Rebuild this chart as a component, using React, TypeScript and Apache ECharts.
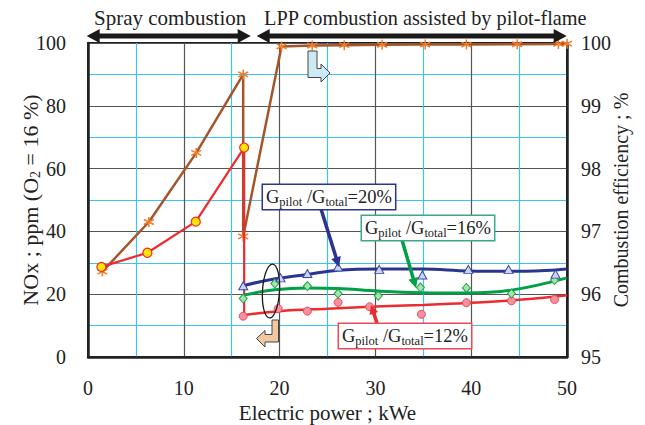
import React, { useEffect, useRef } from 'react';
import * as echarts from 'echarts';

// Combustion efficiency (right axis, %)
const effX = [1.5, 6.35, 11.3, 16.2, 16.2, 20.2, 23.4, 26.75, 30.7, 35.2, 39.5, 44.8, 49.1, 50];
const effY = [96.36, 97.15, 98.25, 99.5, 96.92, 99.945, 99.96, 99.965, 99.972, 99.975, 99.975, 99.98, 99.985, 99.99];

// Spray combustion NOx (left axis, ppm)
const sprayX = [1.4, 6.2, 11.25, 16.3, 16.3];
const sprayY = [28.7, 33.2, 43.1, 66.7, 13];

// Fitted curves (NOx)
const fit12X = [16.3, 20, 25, 29.4, 35, 39.5, 45, 50];
const fit12Y = [13.4, 14.6, 15.4, 16.0, 16.6, 17.2, 18.2, 19.7];
const fit16X = [16.2, 19.5, 22.9, 26.1, 30.3, 34.7, 39.5, 44.2, 50];
const fit16Y = [19.7, 21.4, 22.0, 21.8, 21.0, 20.5, 20.4, 21.3, 25.2];
const fit20X = [16.2, 19, 22.9, 26.1, 30.4, 34.9, 39.7, 43.9, 48.8, 50];
const fit20Y = [22.7, 24.6, 26.3, 27.6, 28.0, 28.0, 27.4, 27.3, 27.7, 28.0];

// Measured points (NOx)
const pts12X = [16.2, 19.85, 22.9, 26.1, 29.4, 34.8, 39.5, 44.2, 48.7];
const pts12Y = [13.0, 15.4, 14.6, 17.4, 16.0, 13.6, 17.3, 17.9, 18.3];
const pts16X = [16.2, 19.5, 22.9, 26.1, 30.3, 34.7, 39.5, 44.2, 48.7];
const pts16Y = [18.6, 23.4, 22.6, 20.2, 19.5, 22.1, 22.0, 20.2, 24.5];
const pts20X = [16.2, 20.1, 22.9, 26.1, 30.4, 34.9, 39.7, 43.9, 48.8];
const pts20Y = [22.7, 25.2, 26.6, 28.7, 27.9, 26.1, 27.9, 27.9, 26.4];

const zip = (xs: number[], ys: number[]) => xs.map((x, i) => [x, ys[i]]);

const FONT = "'Liberation Serif', 'Times New Roman', 'DejaVu Serif', serif";

function arrow(x1: number, y1: number, x2: number, y2: number, color: string, width: number, headLen: number, headW: number) {
  const dx = x2 - x1, dy = y2 - y1;
  const len = Math.sqrt(dx * dx + dy * dy);
  const ux = dx / len, uy = dy / len;
  const bx = x2 - ux * headLen, by = y2 - uy * headLen;
  const px = -uy, py = ux;
  return [
    { type: 'line', shape: { x1, y1, x2: bx + ux * 1, y2: by + uy * 1 }, style: { stroke: color, lineWidth: width }, z: 100 },
    {
      type: 'polygon',
      shape: { points: [[x2, y2], [bx + px * headW, by + py * headW], [bx - px * headW, by - py * headW]] },
      style: { fill: color }, z: 100,
    },
  ];
}

function dblArrow(xl: number, xr: number, y: number) {
  const c = '#1a1a1a';
  return [
    { type: 'line', shape: { x1: xl + 10, y1: y, x2: xr - 10, y2: y }, style: { stroke: c, lineWidth: 5 }, z: 100 },
    { type: 'polygon', shape: { points: [[xl, y], [xl + 13, y - 7], [xl + 13, y + 7]] }, style: { fill: c }, z: 100 },
    { type: 'polygon', shape: { points: [[xr, y], [xr - 13, y - 7], [xr - 13, y + 7]] }, style: { fill: c }, z: 100 },
  ];
}

function label(x: number, y: number, pct: string, color: string) {
  return {
    type: 'text',
    x, y, z: 110,
    style: {
      text: `{a|G}{s|pilot}{a| /G}{s|total}{a|=${pct}}`,
      rich: {
        a: { fontFamily: FONT, fontSize: 18.5, lineHeight: 22, verticalAlign: 'middle', fill: '#222' },
        s: { fontFamily: FONT, fontSize: 12.5, lineHeight: 12, verticalAlign: 'bottom', fill: '#222' },
      },
      backgroundColor: '#fff',
      borderColor: color,
      borderWidth: 1.5,
      padding: [1, 3, 1, 3],
      align: 'left',
      verticalAlign: 'top',
    },
  };
}

export default function App() {
  const ref = useRef<HTMLDivElement>(null);
  useEffect(() => {
    if (!ref.current) return;
    const chart = echarts.init(ref.current, null, { renderer: 'svg' });
    const asterisk = 'path://M0,-10L0,10M-8.66,-5L8.66,5M-8.66,5L8.66,-5';
    const axisLabel = { fontFamily: FONT, fontSize: 20, color: '#222' };
    const option: any = {
      animation: false,
      backgroundColor: '#fff',
      textStyle: { fontFamily: FONT },
      grid: {
        left: 88, right: 78, top: 43, bottom: 68, show: true, borderColor: '#222', borderWidth: 2,
        backgroundColor: 'transparent', containLabel: false, outerBoundsMode: 'none',
      },
      xAxis: {
        type: 'value', min: 0, max: 50, interval: 10,
        axisLine: { show: true, lineStyle: { color: '#222', width: 2.5 } },
        axisTick: { show: false },
        axisLabel: { ...axisLabel, margin: 21 },
        splitLine: { show: true, lineStyle: { color: '#555', width: 1.2 } },
        minorTick: { show: false, splitNumber: 2 },
        minorSplitLine: { show: true, lineStyle: { color: '#3cc3f0', width: 1.2 } },
        name: 'Electric power ; kWe', nameLocation: 'middle', nameGap: 45, nameMoveOverlap: false,
        nameTextStyle: { fontFamily: FONT, fontSize: 21, color: '#222' },
      },
      yAxis: [
        {
          type: 'value', min: 0, max: 100, interval: 20, position: 'left',
          axisLine: { show: true, lineStyle: { color: '#222', width: 2.5 } },
          axisTick: { show: false },
          axisLabel: { ...axisLabel, margin: 22 },
          splitLine: { show: true, lineStyle: { color: '#555', width: 1.2 } },
          minorTick: { show: false, splitNumber: 2 },
          minorSplitLine: { show: true, lineStyle: { color: '#3cc3f0', width: 1.2 } },
          name: '{a|NOx ; ppm (O}{s|2}{a| = 16 %)}', nameLocation: 'middle', nameGap: 46, nameRotate: 90, nameMoveOverlap: false,
          nameTextStyle: {
            rich: {
              a: { fontFamily: FONT, fontSize: 22, color: '#222', lineHeight: 24, verticalAlign: 'middle' },
              s: { fontFamily: FONT, fontSize: 14, color: '#222', lineHeight: 14, verticalAlign: 'bottom' },
            },
          },
        },
        {
          type: 'value', min: 95, max: 100, interval: 1, position: 'right',
          axisLine: { show: true, lineStyle: { color: '#222', width: 2.5 } },
          axisTick: { show: false },
          axisLabel: { ...axisLabel, margin: 14 },
          splitLine: { show: false },
          name: 'Combustion efficiency ; %', nameLocation: 'middle', nameGap: 44, nameRotate: 90, nameMoveOverlap: false,
          nameTextStyle: { fontFamily: FONT, fontSize: 20, color: '#222' },
        },
      ],
      series: [
        {
          type: 'line', yAxisIndex: 1, data: zip(effX, effY),
          lineStyle: { color: '#a4552a', width: 2.5 },
          symbol: asterisk, symbolSize: 10,
          itemStyle: { color: 'transparent', borderColor: '#f37b2a', borderWidth: 1.5 },
          z: 3,
        },
        {
          type: 'line', yAxisIndex: 0,
          data: zip(sprayX, sprayY).map((d, i) => (i === sprayX.length - 1 ? { value: d, symbol: 'none' } : d)),
          lineStyle: { color: '#ee2a2e', width: 2.2 },
          symbol: 'circle', symbolSize: 9,
          itemStyle: { color: '#ffe500', borderColor: '#ee2a2e', borderWidth: 1.2 },
          z: 4,
        },
        {
          type: 'line', data: zip(fit12X, fit12Y), smooth: 0.4, symbol: 'none',
          lineStyle: { color: '#ee2a2e', width: 2.5 }, z: 4,
        },
        {
          type: 'line', data: zip(fit16X, fit16Y), smooth: 0.4, symbol: 'none',
          lineStyle: { color: '#00a046', width: 3 }, z: 4,
        },
        {
          type: 'line', data: zip(fit20X, fit20Y), smooth: 0.4, symbol: 'none',
          lineStyle: { color: '#2b3590', width: 3 }, z: 4,
        },
        {
          type: 'scatter', data: zip(pts12X, pts12Y), symbol: 'circle', symbolSize: 8,
          itemStyle: { color: '#f7909d', borderColor: '#e84a63', borderWidth: 1, opacity: 1 }, z: 5,
        },
        {
          type: 'scatter', data: zip(pts16X, pts16Y), symbol: 'diamond', symbolSize: [8, 9],
          itemStyle: { color: '#a6e5a8', borderColor: '#20a050', borderWidth: 1, opacity: 1 }, z: 5,
        },
        {
          type: 'scatter', data: zip(pts20X, pts20Y), symbol: 'triangle', symbolSize: [9, 8],
          itemStyle: { color: '#c9d6f4', borderColor: '#3a46a8', borderWidth: 1, opacity: 1 }, z: 5,
        },
      ],
      graphic: [
        { type: 'text', x: 94, y: 18, z: 100, style: { text: 'Spray combustion', fontFamily: FONT, fontSize: 21, fill: '#222', align: 'left', verticalAlign: 'middle' } },
        { type: 'text', x: 264, y: 18, z: 100, style: { text: 'LPP combustion assisted by pilot-flame', fontFamily: FONT, fontSize: 20.3, fill: '#222', align: 'left', verticalAlign: 'middle' } },
        ...dblArrow(86.7, 250.7, 36),
        ...dblArrow(256.7, 566.7, 36),
        {
          type: 'polygon', z: 100,
          shape: { points: [[308, 51], [317, 51], [317, 68.5], [321, 68.5], [321, 64], [330, 73], [321, 82], [321, 77.5], [308, 77.5]] },
          style: { fill: '#cde9f4', stroke: '#444', lineWidth: 1 },
        },
        {
          type: 'polygon', z: 100,
          shape: { points: [[278.5, 320], [278.5, 342], [265, 342], [265, 347], [256.5, 338.5], [265, 330.5], [265, 334.5], [272, 334.5], [272, 320]] },
          style: { fill: '#f2c8a0', stroke: '#444', lineWidth: 1 },
        },
        {
          type: 'ellipse', z: 100, x: 271, y: 291, rotation: -0.06,
          shape: { cx: 0, cy: 0, rx: 8.5, ry: 27 },
          style: { fill: 'none', stroke: '#1a1a1a', lineWidth: 1.3 },
        },
        ...arrow(321, 209, 339, 267, '#2b3590', 3.5, 10, 5),
        ...arrow(402, 240, 416, 288, '#00a046', 3.5, 10, 5),
        ...arrow(378, 326, 371, 305, '#ee2a2e', 3.5, 9, 4.5),
        label(263, 185, '20%', '#2b3590'),
        label(362, 216, '16%', '#3aa88a'),
        label(339, 324, '12%', '#ee4a55'),
      ],
    };
    chart.setOption(option);
    return () => chart.dispose();
  }, []);
  return <div ref={ref} style={{ position: 'fixed', left: 0, top: 0, width: 645, height: 425 }} />;
}
